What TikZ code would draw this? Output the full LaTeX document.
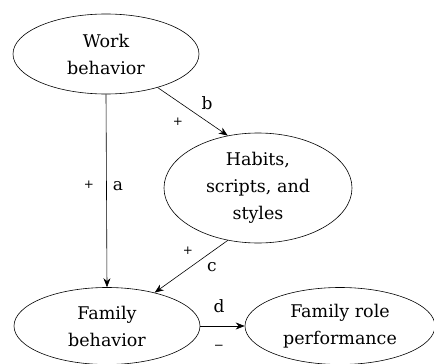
\documentclass[tikz,border=0pt]{standalone}
\usepackage{fontspec}
\setmainfont{DejaVu Serif}
\usetikzlibrary{shapes.geometric,arrows.meta}
\begin{document}
\begin{tikzpicture}[x=1pt,y=-1pt,
  oval/.style={draw,ellipse,inner sep=0pt,align=center,font=\fontsize{17.5}{27}\selectfont,line width=0.6pt},
  link/.style={draw,line width=0.6pt,-{Stealth[length=9pt,width=7pt]}},
  lab/.style={font=\fontsize{17}{18}\selectfont,inner sep=0pt},
  pm/.style={font=\fontsize{12}{15}\selectfont,inner sep=0pt}]
\useasboundingbox (0,0) rectangle (434,364);
\node[oval,minimum width=186pt,minimum height=80pt] (work) at (106,54) {Work\\behavior};
\node[oval,minimum width=188pt,minimum height=110pt] (habits) at (258,188) {Habits,\\scripts, and\\styles};
\node[oval,minimum width=186pt,minimum height=77pt] (fam) at (107,326) {Family\\behavior};
\node[oval,minimum width=190pt,minimum height=77pt] (role) at (340,326) {Family role\\performance};
\draw[link] (work.south) -- (fam.north);
\draw[link] (work.-33) -- (habits.120);
\draw[link] (habits.-120) -- (fam.35);
\draw[link] (fam.east) -- (role.west);
\node[pm] (pa) at (89,185) {+};
\node[lab] (la) at (118,186) {a};
\node[lab] (lb) at (207,103) {b};
\node[pm] (pb) at (178,122) {+};
\node[pm] (pc) at (188,251) {+};
\node[lab] (lc) at (212,267) {c};
\node[lab] (ld) at (219,306) {d};
\node[pm] (pd) at (219,347) {−};
\end{tikzpicture}
\end{document}
